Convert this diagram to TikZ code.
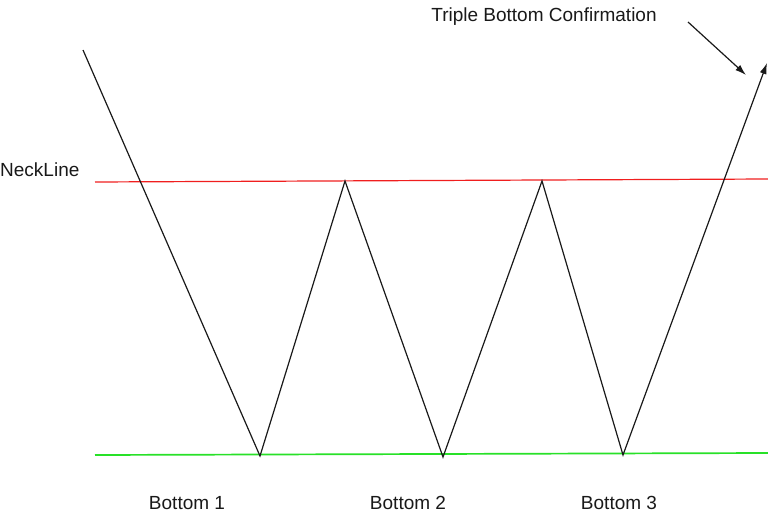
\documentclass[tikz,border=0pt]{standalone}
\usepackage{fontspec}
\setmainfont{Liberation Sans}
\usetikzlibrary{arrows.meta}
\begin{document}
\begin{tikzpicture}[x=1pt,y=-1pt,
  price/.style={draw=black!90,line width=1.2pt,line join=miter},
  neck/.style={draw={rgb,255:red,240;green,30;blue,30},line width=1.2pt},
  support/.style={draw={rgb,255:red,40;green,225;blue,40},line width=1.7pt},
  lbl/.style={font=\fontsize{19}{22}\selectfont,inner sep=0pt,text=black!90},
  tip/.style={-{Latex[length=11pt,width=7pt]}}]
\useasboundingbox (0,0) rectangle (768,519);
\coordinate (nl1) at (95,182);
\coordinate (nl2) at (768,179);
\coordinate (sp1) at (95,455);
\coordinate (sp2) at (768,453);
\coordinate (p0) at (83,50);
\coordinate (b1) at (260,456);
\coordinate (t1) at (345,181);
\coordinate (b2) at (443,457);
\coordinate (t2) at (542,181);
\coordinate (b3) at (623,455);
\coordinate (out) at (767,63);
\coordinate (a1) at (688,22);
\coordinate (a2) at (746,75);
\path[neck] (nl1) -- (nl2);
\path[support] (sp1) -- (sp2);
\path[price,tip] (p0) -- (b1) -- (t1) -- (b2) -- (t2) -- (b3) -- (out);
\path[draw=black!90,line width=1.2pt,tip] (a1) -- (a2);
\node[lbl,anchor=west] (neckline) at (0,170) {NeckLine};
\node[lbl] (conf) at (544,17) {Triple Bottom Confirmation};
\node[lbl] (bot1) at (187,503) {Bottom 1};
\node[lbl] (bot2) at (408,503) {Bottom 2};
\node[lbl] (bot3) at (619,503) {Bottom 3};
\end{tikzpicture}
\end{document}
